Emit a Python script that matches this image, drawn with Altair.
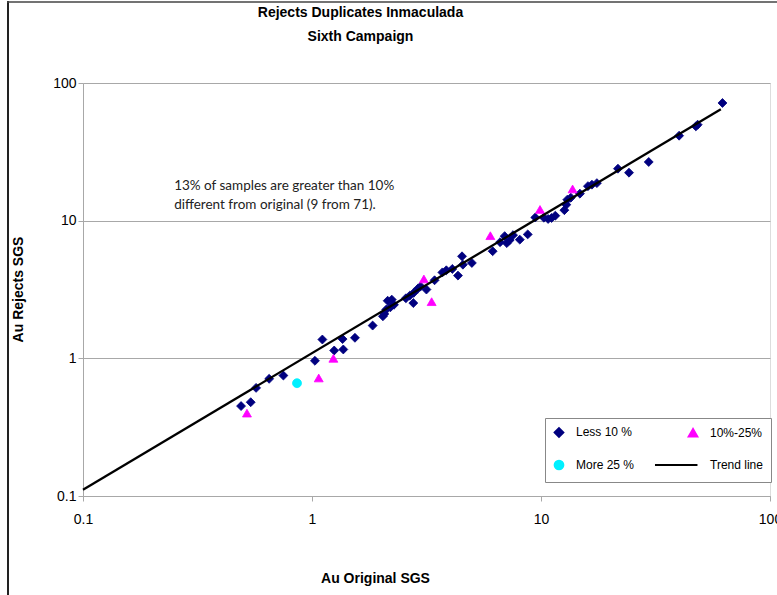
import altair as alt
import pandas as pd

# Less 10 % (diamonds)
less_x = [0.49, 0.54, 0.57, 0.65, 0.75, 1.03, 1.11, 1.25, 1.37, 1.36, 1.54, 1.84, 2.04, 2.07, 2.11,
          2.14, 2.20, 2.23, 2.28, 2.57, 2.67, 2.77, 2.78, 2.90, 2.98, 3.16, 3.43, 3.71, 3.86, 4.10,
          4.34, 4.52, 4.56, 4.99, 6.15, 6.63, 6.94, 7.09, 7.30, 7.55, 8.08, 8.75, 9.44, 10.29, 10.74,
          11.12, 11.55, 12.65, 12.90, 13.03, 13.50, 14.79, 16.03, 16.69, 17.54, 21.68, 24.23, 29.54,
          40.10, 47.45, 48.31, 62.0]
less_y = [0.45, 0.48, 0.61, 0.71, 0.75, 0.96, 1.37, 1.14, 1.16, 1.38, 1.41, 1.73, 2.02, 2.10, 2.26,
          2.62, 2.35, 2.67, 2.45, 2.73, 2.85, 2.52, 2.99, 3.21, 3.33, 3.16, 3.69, 4.21, 4.36, 4.46,
          3.99, 5.51, 4.79, 4.93, 6.00, 6.98, 7.72, 6.87, 7.22, 7.85, 7.28, 7.95, 10.55, 10.51, 10.29,
          10.46, 10.87, 11.92, 13.07, 14.21, 14.69, 15.71, 17.81, 18.26, 18.73, 23.86, 22.32, 26.69,
          41.42, 48.40, 49.80, 71.6]
# 10%-25% (triangles)
mid_x = [0.52, 1.07, 1.24, 3.08, 3.33, 6.01, 9.90, 13.74]
mid_y = [0.40, 0.72, 1.00, 3.77, 2.58, 7.78, 12.06, 16.99]
# More 25 % (circle)
more_x = [0.86]
more_y = [0.66]
# Trend line end points
trend_x = [0.1, 61.0]
trend_y = [0.111, 64.5]

# legend order (column-major in a 2-column legend)
categories = ["Less 10 %", "More 25 %", "10%-25%", "Trend line"]
cat_colors = ["#00007f", "#00f0ff", "#ff00ff", "#000000"]
cat_shapes = ["diamond", "circle", "triangle-up", "M-8.5,0L1,0"]
cat_sizes = [80, 80, 38, 40]

annotation = ["13% of samples are greater than 10%", "different from original (9 from 71)."]
title_lines = ["Rejects Duplicates Inmaculada", "Sixth Campaign"]

pts = pd.DataFrame({
    "x": less_x + mid_x + more_x,
    "y": less_y + mid_y + more_y,
    "cat": ["Less 10 %"] * len(less_x) + ["10%-25%"] * len(mid_x) + ["More 25 %"] * len(more_x),
})
trend = pd.DataFrame({"x": trend_x, "y": trend_y})
note = pd.DataFrame({"x": [0.25], "y": [20.2], "t": [annotation]})

FONT = "Liberation Sans"
GRID = "#a8a8a8"

xscale = alt.Scale(type="log", domain=[0.1, 100], nice=False)
yscale = alt.Scale(type="log", domain=[0.1, 100], nice=False)

xaxis = alt.Axis(values=[0.1, 1, 10, 100], format="~g", grid=False, tickSize=5, labelPadding=11,
                 labelFont=FONT, labelFontSize=14, labelColor="#000", labelFlush=False,
                 domainColor=GRID, tickColor=GRID, title="Au Original SGS", titleFont=FONT,
                 titleFontSize=14, titleFontWeight="bold", titleColor="#000",
                 titleX=292, titlePadding=45, titleAlign="center")
yaxis = alt.Axis(values=[0.1, 1, 10, 100], format="~g", grid=True, gridColor=GRID, tickSize=5,
                 labelPadding=2, labelFont=FONT, labelFontSize=14, labelColor="#000",
                 labelFlush=False, domainColor=GRID, tickColor=GRID, title="Au Rejects SGS",
                 titleFont=FONT, titleFontSize=14, titleFontWeight="bold", titleColor="#000",
                 titleX=-65, titleY=206, titleBaseline="middle", titleAlign="center", titleAngle=-90)

legend = alt.Legend(title=None, orient="none", legendX=462, legendY=335, columns=2,
                    fillColor="white", strokeColor="#888888", padding=8, rowPadding=15,
                    columnPadding=16, labelFont=FONT, labelFontSize=12, labelColor="#000",
                    labelOffset=11, symbolSize=55, symbolStrokeWidth=1.8)

points = alt.Chart(pts).mark_point(filled=True, opacity=1, strokeWidth=0.8).encode(
    x=alt.X("x:Q", scale=xscale, axis=xaxis),
    y=alt.Y("y:Q", scale=yscale, axis=yaxis),
    color=alt.Color("cat:N", scale=alt.Scale(domain=categories, range=cat_colors), legend=legend),
    stroke=alt.Stroke("cat:N", scale=alt.Scale(domain=categories, range=cat_colors), legend=legend),
    shape=alt.Shape("cat:N", scale=alt.Scale(domain=categories, range=cat_shapes), legend=legend),
    size=alt.Size("cat:N", scale=alt.Scale(domain=categories, range=cat_sizes), legend=None),
)

line = alt.Chart(trend).mark_line(color="black", strokeWidth=2.3).encode(
    x=alt.X("x:Q", scale=xscale),
    y=alt.Y("y:Q", scale=yscale),
)

text = alt.Chart(note).mark_text(align="left", baseline="top", font="Lato", fontSize=13.5,
                                 lineHeight=19.5, color="#222").encode(
    x=alt.X("x:Q", scale=xscale),
    y=alt.Y("y:Q", scale=yscale),
    text="t",
)

one = pd.DataFrame({"a": [0]})
frame_left = alt.Chart(one).mark_rule(color="#222", strokeWidth=2).encode(
    x=alt.value(-75), y=alt.value(-82), y2=alt.value(512))
frame_top = alt.Chart(one).mark_rule(color="#444", strokeWidth=1.5).encode(
    x=alt.value(-76), x2=alt.value(694), y=alt.value(-81))

chart = alt.layer(points, line, text, frame_left, frame_top).properties(
    width=687, height=413,
    padding={"left": 83, "top": 83, "right": 7, "bottom": 99},
    autosize=alt.AutoSizeParams(type="none"),
    title=alt.TitleParams(title_lines, font=FONT, fontSize=14, fontWeight="bold", color="#000",
                          anchor="middle", dx=-66, offset=-44, lineHeight=24),
).configure_view(stroke=GRID, strokeWidth=1.2).configure(background="white")

chart.save("out.html", embed_options={"renderer": "svg", "actions": False})
